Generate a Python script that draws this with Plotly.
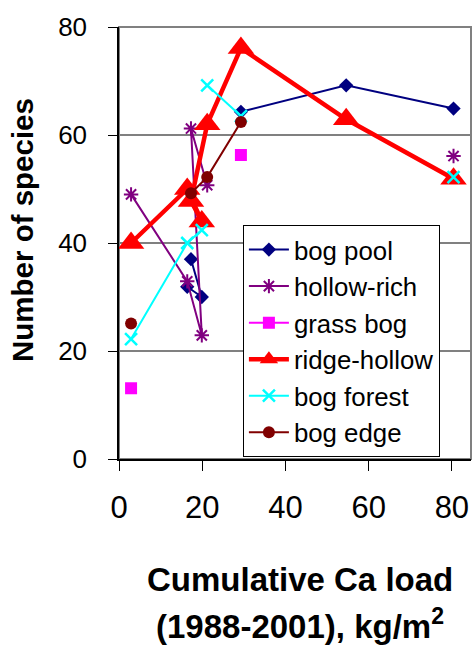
import plotly.graph_objects as go

# Site x positions (cumulative Ca load), in data order
sites_x = [2.9, 16.4, 19.9, 17.3, 21.2, 29.3, 54.6, 80.4]

bog_pool     = [None, 31.9, 30.0, 37.0, None, 64.3, 69.2, 64.9]
hollow_rich  = [49.0, 32.9, 22.9, 61.2, 50.7, None, None, 56.1]
grass_bog    = [13.1, None, None, None, None, 56.3, None, None]
ridge_hollow = [40.0, 50.0, 44.0, 47.8, 62.0, 76.1, 62.9, 51.9]
bog_forest   = [22.2, 40.0, 42.4, None, 69.2, 63.5, None, 52.2]
bog_edge     = [25.1, None, None, 49.2, 52.2, 62.4, None, None]

x_ticks = [0, 20, 40, 60, 80]
y_ticks = [0, 20, 40, 60, 80]

x_title_lines = ["Cumulative Ca load", "(1988-2001), kg/m<sup>2</sup>"]
y_title = "Number of species"

fig = go.Figure()

def add(name, ys, color, symbol, msize, lw, mline=None):
    marker = dict(symbol=symbol, size=msize, color=color)
    if mline is not None:
        marker["line"] = dict(color=color, width=mline)
    fig.add_trace(go.Scatter(
        x=sites_x, y=ys, name=name, mode="lines+markers",
        connectgaps=False,
        line=dict(color=color, width=lw),
        marker=marker,
    ))

add("bog pool", bog_pool, "#000080", "diamond", 11, 2)
add("hollow-rich", hollow_rich, "#800080", "asterisk-open", 12, 2, mline=2)
add("grass bog", grass_bog, "#FF00FF", "square", 12, 2)
add("ridge-hollow", ridge_hollow, "#FF0000", "triangle-up", 23, 4.5)
add("bog forest", bog_forest, "#00FFFF", "x-thin-open", 12, 2, mline=2.5)
add("bog edge", bog_edge, "#800000", "circle", 12, 2)

fig.update_layout(
    width=472, height=648,
    margin=dict(l=119, r=1, t=27, b=189),
    paper_bgcolor="white", plot_bgcolor="white",
    font=dict(family="Liberation Sans, Arial, sans-serif", color="black"),
    showlegend=True,
    legend=dict(
        x=0.352, y=0.541, xanchor="left", yanchor="top",
        bgcolor="white", bordercolor="black", borderwidth=1,
        font=dict(size=25.8, color="black"),
        itemwidth=40,
    ),
    shapes=[dict(type="rect", xref="paper", yref="paper", x0=0, y0=0, x1=1, y1=1,
                 line=dict(color="#808080", width=2), layer="below")],
    annotations=[
        dict(text="<b>" + x_title_lines[0] + "</b>", xref="paper", yref="paper",
             x=0.514, y=-0.28, xanchor="center", yanchor="middle",
             showarrow=False, font=dict(size=33)),
        dict(text="<b>" + x_title_lines[1] + "</b>", xref="paper", yref="paper",
             x=0.514, y=-0.382, xanchor="center", yanchor="middle",
             showarrow=False, font=dict(size=33)),
        dict(text="<b>" + y_title + "</b>", xref="paper", yref="paper",
             x=-0.2756, y=0.53, xanchor="center", yanchor="middle", textangle=-90,
             showarrow=False, font=dict(size=29.5)),
    ],
)

fig.update_xaxes(
    range=[0, 84.6], tickvals=x_ticks, ticktext=[str(v) for v in x_ticks],
    ticks="outside", ticklen=10, tickcolor="black", tickwidth=1,
    showline=True, linecolor="black", linewidth=1.5,
    showgrid=False, zeroline=False,
    tickfont=dict(size=31), ticklabelstandoff=10,
)
fig.update_yaxes(
    range=[0, 80], tickvals=y_ticks, ticktext=[str(v) for v in y_ticks],
    ticks="outside", ticklen=9, tickcolor="black", tickwidth=1,
    showline=True, linecolor="black", linewidth=1.5,
    showgrid=True, gridcolor="#808080", gridwidth=2, zeroline=False,
    tickfont=dict(size=26), ticklabelstandoff=16,
)

fig.write_html("out.html")
